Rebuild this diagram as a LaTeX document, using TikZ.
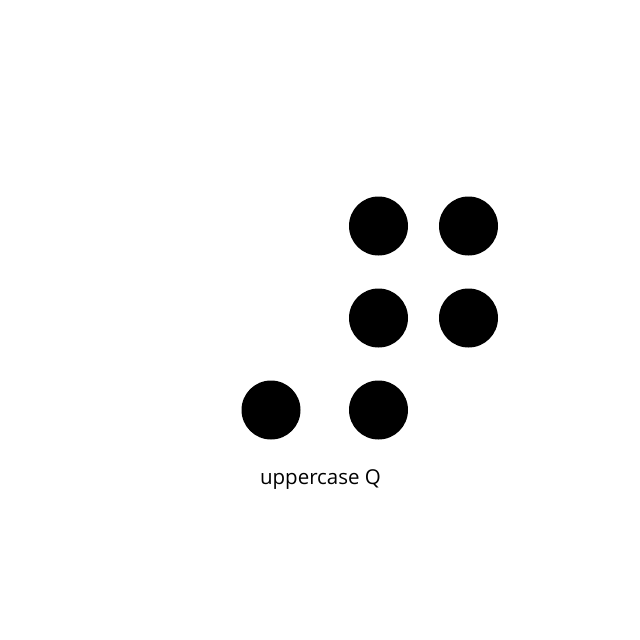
\documentclass[tikz,border=0pt]{standalone}
\usepackage{fontspec}
\setmainfont{Open Sans}
\begin{document}
\begin{tikzpicture}[x=1pt,y=-1pt,
  dot/.style={circle,fill=black,minimum size=59pt,inner sep=0pt},
  lbl/.style={font=\fontsize{20.5}{24}\selectfont}]
\useasboundingbox (0,0) rectangle (640,640);
\node[dot] (d1) at (378.5,226) {};
\node[dot] (d2) at (468.5,226) {};
\node[dot] (d3) at (378.5,318) {};
\node[dot] (d4) at (468.5,318) {};
\node[dot] (d5) at (271,410) {};
\node[dot] (d6) at (378.5,410) {};
\node[lbl] (t) at (320.5,480) {uppercase Q};
\end{tikzpicture}
\end{document}
